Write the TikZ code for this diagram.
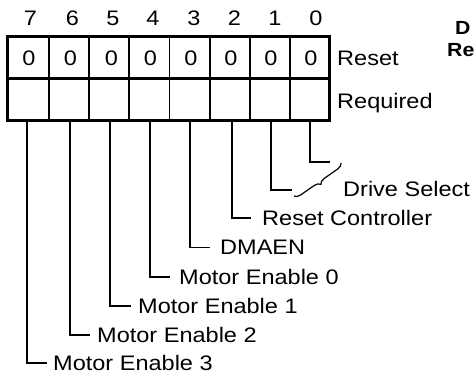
\documentclass[tikz,border=0pt]{standalone}
\usepackage{fontspec}
\setmainfont{Liberation Sans}[FakeStretch=1.12]
\usetikzlibrary{decorations.pathreplacing,calc}
\begin{document}
\begin{tikzpicture}[x=1pt,y=-1pt,
  lbl/.style={anchor=base west,inner sep=0pt,font=\fontsize{21}{24}\selectfont},
  dig/.style={anchor=base,inner sep=0pt,font=\fontsize{21}{24}\selectfont},
  ttl/.style={anchor=base west,inner sep=0pt,font=\fontsize{19}{22}\selectfont\bfseries},
  thinline/.style={line width=1.2pt},
  thickline/.style={line width=3pt},
  leader/.style={line width=1.2pt}]
\useasboundingbox (0,0) rectangle (475,379);
% grid
\foreach \x in {49,89,129,169.5,210,250,290}
  \draw[thinline] (\x,37) -- (\x,121);
\draw[thickline] (7.5,79) -- (329,79);
\draw[thickline] (7.5,37) rectangle (329,121);
% header digits
\foreach \d/\x in {7/30.5,6/72.5,5/113,4/153,3/194,2/234.5,1/275,0/316}
  \node[dig] (h\d) at (\x,25.5) {\d};
% cell digits
\foreach \d/\x in {7/29,6/70.5,5/111.5,4/150.5,3/191,2/231,1/271,0/311}
  \node[dig] (c\d) at (\x,66) {0};
\node[lbl] (reset) at (337,65.5) {Reset};
\node[lbl] (req) at (337,109) {Required};
% title fragment
\node[ttl] (tA) at (455,35) {D};
\node[ttl] (tB) at (447,57) {Re};
% leader starts
\foreach \n/\x in {7/27,6/70,5/110,4/150,3/190,2/232,1/271,0/310}
  \coordinate (s\n) at (\x,121);
% labels
\node[lbl] (m3) at (53,370.5) {Motor Enable 3};
\node[lbl] (m2) at (97,342.5) {Motor Enable 2};
\node[lbl] (m1) at (138,313.5) {Motor Enable 1};
\node[lbl] (m0) at (179,284.5) {Motor Enable 0};
\node[lbl] (dma) at (220,254.5) {DMAEN};
\node[lbl] (rc) at (262,225.5) {Reset Controller};
\node[lbl] (ds) at (343,197) {Drive Select};
% leaders
\draw[leader] (s7) |- ($(m3.west)+(-6,0)$);
\draw[leader] (s6) |- ($(m2.west)+(-7,0)$);
\draw[leader] (s5) |- ($(m1.west)+(-7,0)$);
\draw[leader] (s4) |- ($(m0.west)+(-9,0)$);
\draw[leader] (s3) |- ($(dma.west)+(-10,0)$);
\draw[leader] (s2) |- ($(rc.west)+(-11,0)$);
\coordinate (e1) at (292,190);
\coordinate (e0) at (330,162);
\draw[leader] (s1) |- (e1);
\draw[leader] (s0) |- (e0);
% brace
\coordinate (brU) at (341,163);
\coordinate (brL) at (294,196);
\draw[leader,decorate,decoration={brace,amplitude=6pt}] (brU) -- (brL);
\end{tikzpicture}
\end{document}
